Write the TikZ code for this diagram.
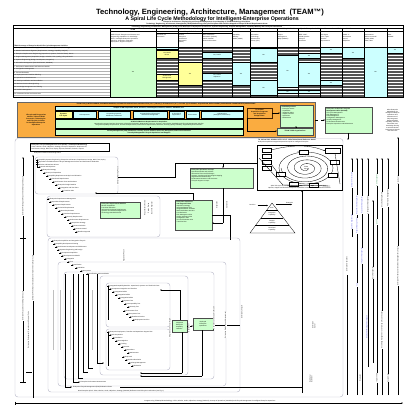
\documentclass[tikz,border=0pt]{standalone}
\usepackage{fontspec}
\setmainfont{Liberation Sans}
\usetikzlibrary{arrows.meta,shapes.geometric}
\definecolor{tgreen}{RGB}{204,255,204}
\definecolor{tcyan}{RGB}{204,255,255}
\definecolor{tyellow}{RGB}{255,255,153}
\definecolor{torange}{RGB}{250,172,64}
\definecolor{tdark}{RGB}{85,85,85}
\definecolor{tblue}{RGB}{60,60,225}
\definecolor{tgtxt}{RGB}{40,140,70}
\definecolor{tframe}{RGB}{190,190,205}
\tikzset{
  tx/.style={font=\fontsize{1.5}{1.8}\selectfont, inner sep=0pt, align=left},
  txc/.style={tx, align=center},
  txb/.style={font=\fontsize{1.6}{1.9}\selectfont\bfseries, inner sep=0pt, align=center},
  gbox/.style={draw=black!70, line width=0.3pt, fill=tgreen},
  frm/.style={draw=tframe, line width=0.45pt, rounded corners=3pt},
  ln/.style={line width=0.3pt},
  arr/.style={line width=0.3pt, -{Stealth[length=1.6pt,width=1.3pt]}},
  rtx/.style={tx, rotate=90, fill=white, inner sep=0.3pt},
}
\newcommand\cellfill[6]{\fill[#5] (#1,#2) rectangle (#3,#4); \draw[line width=0.25pt] (#1,#2) rectangle (#3,#4); \node[txc] at ({(#1+#3)/2},{(#2+#4)/2}) {#6};}
\newcommand\entry[3]{\draw[arr] (#1-2.6,#2) -- (#1-0.2,#2); \node[tx,anchor=west] at (#1,#2) {#3};}
\begin{document}
\begin{tikzpicture}[x=1pt,y=-1pt]
\useasboundingbox (0,0) rectangle (414,414);
\fill[white] (0,0) rectangle (414,414);

% ---------------- title
\node[font=\fontsize{7.6}{9}\selectfont\bfseries] (title) at (210,12.6) {Technology, Engineering, Architecture, Management\ \ (TEAM™)};
\node[font=\fontsize{5.3}{6}\selectfont\bfseries] (subtitle) at (212,18.9) {A Spiral Life Cycle Methodology for Intelligent-Enterprise Operations};
\node[txb] (sub1) at (207,22.3) {Enterprise Architecture, Engineering and Program Management Cross-Mapping of TEAM Methodology Disciplines};
\node[txb] (sub2) at (207,24.3) {Technology, Engineering, Architecture, Management (TEAM) Methodology Lifecycle Disciplines and Activities Mapped to Enterprise Model Requirements Areas};

% ---------------- table
\fill[tdark] (156,47) rectangle (403,97);
\foreach \y in {49.5,52.5,...,96} \draw[white,line width=0.35pt] (156,\y) -- (403,\y);
\foreach \y in {50,53,...,95} \draw[black!30,line width=0.25pt] (13,\y) -- (110,\y);
\foreach \t [count=\i] in {
 {1. Enterprise Architecture Planning (Business, Information, Application, Technology)},
 {2. Mission Performance Alignment (Requirements, Strategy, Capability Analysis)},
 {3. Enterprise Requirements Engineering (Operational, Systems, Technical Views), Reuse},
 {4. Program Management (Acquisition, Budget, Schedule, Risk, Quality), Lifecycle Model},
 {5. Systems Engineering (Design, Development, Integration)},
 {6. Information Management (Data Architecture, Metadata)},
 {7. Performance Measurement and Reference Models},
 {8. Configuration Management},
 {9. Test and Evaluation},
 {10. Deployment and Transition Planning},
 {11. Operations and Maintenance},
 {12. Security Certification and Accreditation},
 {13. Business Process Reengineering},
 {14. Knowledge Management and Training},
 {15. Portfolio Management},
 {16. Investment Review and Governance}}
 \node[tx,anchor=west] at (14,45.6+3*\i) {\t};

\cellfill{110}{47}{156}{97}{tgreen}{Yes}
\cellfill{156}{47}{178}{49.5}{tcyan}{}
\cellfill{156}{50.5}{178}{58}{tyellow}{Yes, Model\\Driven}
\cellfill{156}{74.5}{178}{80}{tyellow}{Architectural\\Management}
\cellfill{178}{62}{202}{85}{tyellow}{Yes}
\cellfill{202}{52}{232}{58}{tcyan}{Yes, Partial}
\cellfill{202}{73}{232}{80}{tcyan}{Yes, Partial\\Sequence}
\cellfill{232}{62}{250}{85}{tcyan}{Yes}
\cellfill{250}{48}{277}{62}{tcyan}{Yes}
\cellfill{250}{80}{277}{95}{tcyan}{Yes}
\cellfill{277}{55}{298}{87}{tcyan}{Yes}
\cellfill{277}{90}{298}{93.5}{tcyan}{Yes}
\cellfill{298}{53}{320}{58}{tcyan}{Yes}
\cellfill{298}{62}{320}{85}{tcyan}{Yes}
\cellfill{298}{90}{320}{93.5}{tcyan}{Yes}
\cellfill{320}{47}{342}{53}{tcyan}{Yes}
\cellfill{320}{80}{342}{85}{tcyan}{Yes}
\cellfill{342}{47}{364}{58}{tcyan}{Yes}
\cellfill{364}{47}{387}{97}{tcyan}{Yes}
\cellfill{387}{47}{403}{53}{tcyan}{Yes}

% header
\draw[line width=0.5pt] (13,25.6) rectangle (403,97);
\draw[line width=0.3pt] (13,28) -- (403,28);
\node[txb] at (207,26.8) {Technology, Engineering, Architecture, Management (TEAM) Cross-Reference to Enterprise Architecture, Systems Engineering, Program Management, Capability Maturity and Life-Cycle Frameworks};
\draw[line width=0.3pt] (110,31) -- (403,31);
\draw[line width=0.3pt] (156,33.5) -- (232,33.5);
\node[txb] at (133,29.5) {TEAM};
\node[txb] at (190,29.5) {Enterprise Architecture Frameworks};
\node[txb] at (190,32.3) {Lifecycle Models};
\node[txb] at (317,29.5) {Lifecycle Role Partnerships for Enterprise Architecture Frameworks and Reference Models};
\draw[line width=0.6pt] (13,47) -- (403,47);
\node[txb,anchor=south west,align=left] at (14,46.6) {TEAM Coverage of Enterprise Model Life-Cycle Management Activities};
\foreach \xa/\xb/\t in {
 110/156/{Multi-Lifecycle Enterprise Architecture and\\Engineering Capabilities for Knowledge\\Driven, Intelligent-Enterprise Operations;\\Planning, Acquisition, Integration,\\Deployment, Support Lifecycles},
 156/178/{Zachman EA\\Framework},
 178/202/{Federal\\Enterprise\\Architecture\\Framework\\(FEAF)},
 202/232/{DoD Architecture\\Framework (DoDAF),\\C4ISR, MODAF\\Views and Products},
 232/250/{Capability\\Maturity\\Model (CMMI)},
 250/277/{Information\\Technology\\Infrastructure\\Library (ITIL)},
 277/298/{Project\\Management\\Body (PMBOK)},
 298/320/{IEEE 12207,\\15288 Systems\\Lifecycle\\Processes},
 320/342/{Six Sigma,\\Lean, TQM\\Process\\Improvement},
 342/364/{COBIT IT\\Governance\\Control\\Objectives},
 364/387/{Performance\\Reference Model\\(PRM), BRM,\\SRM, TRM},
 387/403/{GAO\\EAMMF}}
 \node[tx,anchor=north west,text width=(\xb-\xa-1.5)*1pt] at (\xa+0.8,34.5) {\t};
\foreach \x in {110,156,178,202,232,250,277,298,320,342,364,387}
 \draw[line width=0.6pt] (\x,28) -- (\x,97);

% ---------------- orange box
\fill[torange] (17,102) rectangle (315,137.5);
\draw[line width=0.3pt,draw=black!60] (17,102) rectangle (315,137.5);
\node[txb] (ohead) at (166,104.3) {TEAM FOR (1) INTELLIGENCE, BUSINESS/MISSION, AUTOMATED OPERATIONS CAPABILITIES (I.O.C.) FROM (1) TECHNOLOGY (S.T.) CYCLES, (2) PLANNING, ACQUISITION, DEPLOYMENT (ENTERPRISE COMMITMENTS) OPERATIONS};
\node[txb] (oleft) at (36,120) {Lifecycle and Progression\\Models, Tailored TEAM\\Processes, Technologies\\and Lifecycle Activities\\for Intelligent-Enterprise\\Operations};
\draw[ln,fill=tcyan] (55,106.5) rectangle (243,110.5);
\node[txb] at (149,108.5) {Sample TEAM Acquisition Areas, Services, Technologies, Products, Vendors, Standards, Etc.};
\draw[ln,fill=tyellow] (55,111) rectangle (72,118.5);
\node[txb] at (63.5,114.7) {Systems\\Life Cycle};
\foreach \xa/\xb/\t in {73/96/{UI Components}, 98/130/{UI Operating Systems,\\Middleware, Databases}, 133/167/{UI Organizational (Enterprise)\\Information Management}, 169/184/{UI Functional\\Applications}, 186/199/{UI Processes}, 201/243/{UI Enterprises\\(Intelligence, Information)}}
 {\draw[ln,fill=tcyan] (\xa,111) rectangle (\xb,118.5); \node[txc] at ({(\xa+\xb)/2},114.7) {\t};}
\draw[ln,fill=tgreen] (55,119) rectangle (243,128.5);
\node[txc] (gband) at (149,123.7) {\textbf{All Mission/Business Requirements for Acquisition}\\Operational Concepts, Business Processes, Information Exchanges, Data Models, Services, Systems, Technologies, Standards and Lifecycle Management Activities\\Integrated Capability Requirements, Functional Requirements, Performance Requirements, Interfaces, Security, Quality, Reliability, Supportability and Schedules};
\draw[ln,fill=tgreen] (55,129.5) rectangle (243,135.5);
\node[txb] at (149,132.5) {Identity Management (IdM), Biometrics, Privacy, Access Control, Audit, PKI, Encryption, Data Loss Prevention\\Security Management Lifecycle Operations and Support};
\draw[arr] (150,127.5) -- (150,129.3);
\draw[line width=0.4pt,draw=black!70!orange,fill=torange] (247,108) rectangle (272,118);
\node[txb] (osub) at (259.5,113) {Tri-Ordinal\\Acquisition Programs\\and Acquisition\\Budget Plans};
\node[gbox,minimum width=33pt,minimum height=22pt,anchor=north west] (budget) at (280,105) {};
\node[tx,anchor=north west] at (281.5,106.5) {\textbf{TEAM Budget Plans}\\- Enterprise Assets\\- Capabilities\\- Integration Plans\\- Support Services\\- Operations\\- Maintenance};
\node[gbox,minimum width=36pt,minimum height=6pt,anchor=north west] (tcipp) at (277,128) {};
\node[txb] at (295,131) {TEAM TCIPP Organizations};
\draw[arr] (272,113) -- (280,113);
\draw[arr] (247,118) -- (247,131) -- (277,131);
\draw[arr] (296,127) -- (296,128);

% right of orange
\draw[arr,dashed] (315,120) -- (325,120);
\node[gbox,minimum width=47pt,minimum height=26pt,anchor=north west] (eapmo) at (325,107) {};
\node[tx,anchor=north west] at (326.5,108.5) {\textbf{Enterprise Architecture Program}\\\textbf{Management Office (EAPMO)}\\Life-Cycle Management\\Risk Management\\Data Management\\Configuration Management\\Security Management\\Performance Measurement\\Enterprise Operations and Maintenance};
\node[txc] (micro) at (392.5,120.5) {Micro-Enterprise\\Methodology for\\Intelligent-Enterprise\\Operations and\\Maintenance of\\Fully Integrated,\\Enterprise-Wide\\Capability, Services,\\Information and\\Knowledge Sharing\\to Achieve Mission\\Performance Results\\and Outcomes};
\draw[arr] (348,133) -- (348,140);

% ---------------- outer frames
\draw[frm] (15,138.5) rectangle (343,397);
\draw[ln,fill=white] (30,143) rectangle (109,151);
\node[tx,anchor=north west] (elmp) at (31.5,144.3) {\textbf{Enterprise Lifecycle Management Process (ELMP) - TEAM Spiral Methodology}\\Vision, Mission, Goals, Objectives, Strategy, Concept of Operations, Requirements,\\Architecture, Design, Build, Test, Deploy, Operate, Maintain, Evaluate, Improve};
\node[tx,anchor=west] at (34,153.5) {Enterprise Initiation and Planning Phase};

% left long arrows
\draw[arr] (23,383) -- (23,157);
\draw[arr] (33,398) -- (33,155);
\draw[ln] (20,238) -- (26,238);
\draw[ln] (20,382) -- (26,382);
\draw[ln] (26,372) -- (32,372);
\node[rtx] at (23,196) {Enterprise Planning and Requirements Management Cycle};
\node[rtx] at (23,306) {Enterprise Acquisition and Integration Cycle};
\node[rtx] at (28.5,330) {Enterprise Deployment, Operations and Support Cycle};
\node[rtx] at (33,278) {Enterprise Performance Evaluation and Improvement Lifecycle Loop};

% frame A tree
\draw[frm] (35,157) rectangle (118,194);
\draw[ln] (37,161) -- (37,168);
\foreach \x/\y/\t in {
 39/160/{Capability Systems Engineering: Enterprise Architecture, Requirements, Design, Build, Test, Deploy},
 39/162.3/{Operations and Maintenance Lifecycle Management Process and Performance Evaluation},
 39/164.6/{Mission and Business Drivers},
 41/167/{Goals and Objectives},
 43/170/{Enterprise Strategy},
 46/173/{Concept of Operations},
 49/176/{Capability Requirements Analysis and Allocation},
 52/179/{Functional Requirements},
 55/182/{Architecture Views and Products},
 58/185/{Enterprise Design Baseline},
 61/188/{Integration and Test Plans},
 64/191/{Transition Plan}}
 \entry{\x}{\y}{\t};
\node[rtx] at (118,176) {Enterprise Planning Phase};
\draw[ln] (118,177) -- (175,177) -- (175,163) -- (257,163);
\draw[arr] (223,163) -- (223,168);
\draw[ln] (193,200) -- (193,193);
\draw[arr] (193,193) -- (95,193);

% frame B
\draw[frm] (47,196) rectangle (160,237);
\foreach \x/\y/\t in {
 50/199/{Enterprise Requirements Management},
 52/202/{Operational Requirements},
 55/205/{Systems Requirements},
 58/208/{Technical Requirements},
 61/211/{Data Requirements},
 64/214/{Interface Requirements},
 67/217/{Security Requirements},
 70/220/{Performance Requirements},
 72/223/{Acquisition Strategy},
 74/226/{Source Selection},
 76/229/{Contract Award},
 78/232/{Baseline Approval}}
 \entry{\x}{\y}{\t};
\node[gbox,minimum width=40pt,minimum height=16pt,anchor=north west] (req) at (100,202) {};
\node[tx,anchor=north west] at (101.5,203.5) {\textbf{Enterprise Requirements Baseline}\\Mission Capabilities\\Functional Allocation\\Information Exchange Requirements\\Systems and Services Requirements\\Technology Standards Profile};
\node[rtx] at (145,208) {Requirements Review};
\node[rtx] at (148.5,208) {Design Review};
\node[rtx] at (152,208) {Baseline Approval};
\node[gbox,minimum width=37pt,minimum height=30pt,anchor=north west] (acq) at (175,200) {};
\node[tx,anchor=north west] at (176.5,201.5) {\textbf{Enterprise Acquisition}\\\textbf{and Integration Plan}\\Acquisition Strategy\\Integrated Master Plan\\Integrated Master Schedule\\Work Breakdown Structure\\Cost Estimates\\Risk Management Plan\\Quality Assurance Plan\\Configuration Plan\\Test and Evaluation Plan\\Transition Plan};
\node[gbox,minimum width=63pt,minimum height=20pt,anchor=north west] (ops) at (190,168) {};
\node[tx,anchor=north west] at (191.5,169.5) {\textbf{Enterprise Operations Concept}\\Operational Nodes and Activities\\Information Flows and Exchanges\\Systems, Services and Technologies Mapping\\Organizational Relationships\\Performance Measures and Outcomes\\Lifecycle Support Concept};
\draw[ln] (223,188) -- (223,223);
\draw[arr] (223,223) -- (212,223);
\draw[ln] (212,215) -- (230,215) -- (230,240);
\node[rtx] at (217,205) {Integration};
\node[rtx] at (227,205) {Operations};

% ---------------- spiral box
\node[txb,anchor=west] at (258,140.2) {TS, 26 Jun 2011: SPIRAL LIFE CYCLE - Initial Value-Based Reference Model};
\node[tx,anchor=west] at (258,142.5) {Enterprise Acquisition/Integration/Operations Spiral for Intelligent-Enterprise};
\draw[ln,fill=white] (257,145) rectangle (342,190.5);
\foreach \yy in {148,154,160,166} \draw[ln,fill=white] (262,\yy) rectangle (271,\yy+4.5);
\draw[ln] (325,148.5) rectangle (340,153.5);
\draw[arr] (271,150) .. controls (292,144.5) and (310,144.5) .. (325,151);
\draw[ln] plot[domain=0:1260, samples=160, variable=\t] ({306+(2+\t/55)*cos(\t)}, {168+(1.5+\t/95)*sin(\t)});
\draw[ln] (306,168) ellipse [x radius=27pt, y radius=16pt];
\foreach \xa/\ya in {276/172, 289/182, 309/183, 328/173, 299/150, 330/160} \draw[ln,fill=white] (\xa,\ya) rectangle (\xa+9,\ya+4);
\draw[ln] (259,158) -- (283,185) -- (330,186);
\draw[ln] (271,164) -- (280,176);
\draw[ln] (335,153.5) -- (340,184);
\node[tx] at (299,152) {Plan};
\node[txc] at (306,168) {TEAM\\Spiral};
\node[txc] at (299.5,187) {Spiral Life Cycle for Intelligent-Enterprise Operations: Plan, Acquire, Integrate, Deploy,\\Operate, Support and Evaluate Enterprise Capabilities in Successive Value-Based Increments};
\draw[arr] (302,393) -- (302,190.5);

% pyramid
\draw[ln] (272,203) -- (250,233) -- (295,233) -- cycle;
\foreach \y in {210.5,218,225.5} \draw[ln] ({272-(\y-203)*0.75},\y) -- ({272+(\y-203)*0.75},\y);
\node[txc] at (272,208) {Exec};
\node[txc] at (272,214.5) {Integration\\Capability};
\node[txc] at (272,222) {Support\\Capability};
\node[txc] at (272,229.5) {Functional\\Capability};
\node[tx] (dec) at (252.5,204.5) {Decision};
\draw[arr] (257.5,205.5) -- (268,205.5);
\draw[arr] (276,204.5) -- (292,204.5);
\node[tx,anchor=west] at (286,203) {Enterprise};

% ---------------- lower nested frames
\draw[frm] (48,238) rectangle (240,392);
\draw[frm] (58,262) rectangle (226,386);
\draw[frm] (64,272) rectangle (214,379);
\draw[frm] (100,276) rectangle (188,375);
\draw[frm] (106,283) rectangle (170,327);
\draw[frm] (106,329) rectangle (170,370);
\foreach \x/\y/\t in {
 54/241/{Enterprise Acquisition and Integration Lifecycle},
 56/244/{Capability Development Planning},
 58/247/{Architecture Development and Refinement},
 60/250/{Systems Engineering and Design},
 62/253/{Component Acquisition},
 64/256/{Development and Build},
 67/259/{Integration},
 70/262/{Test},
 74/265/{Verification},
 78/268/{Validation},
 83/271/{Acceptance},
 89/274/{Certification and Accreditation}}
 \entry{\x}{\y}{\t};
\node[rtx] at (124,256) {Acquisition Phase};
\foreach \x/\yb in {65/387, 73/382, 78/378, 83/372, 88/368, 97/363}
 \draw[ln] (\x,274) -- (\x,\yb) -- (\x+5,\yb);
\foreach \x in {53,60,70,92} \draw[black!25,line width=0.3pt] (\x,290) -- (\x,350);
\draw[arr] (97,363) -- (104,363);
\foreach \x/\y/\t in {
 110/286/{Integrated Capability Baseline: Operational, Systems and Technical Views},
 112/289/{Component Integration and Test Plan},
 115/292/{Integration Build 1},
 118/295/{Integration Build 2},
 121/298/{Integration Build 3},
 124/301/{Systems Test},
 127/304/{Interoperability Test},
 130/307/{Security Test},
 126/311/{Performance Test},
 129/314/{Acceptance Test},
 132/317/{Readiness Review},
 135/320/{Deployment Decision}}
 \entry{\x}{\y}{\t};
\foreach \x/\y/\t in {
 110/332/{Enterprise Deployment, Transition and Operations Support Plan},
 112/335/{Site Preparation},
 115/338/{Installation},
 118/341/{Data Migration},
 121/344/{Training},
 124/347/{Cutover},
 127/350/{Operations},
 130/353/{Maintenance},
 125/357/{Help Desk},
 128/360/{Problem Resolution},
 131/363/{Change Management},
 134/366/{Evaluation}}
 \entry{\x}{\y}{\t};
\draw[ln] (108,287) -- (108,320);
\draw[ln] (108,333) -- (108,366);
\node[gbox,minimum width=15pt,minimum height=12pt,anchor=north west] (integ) at (172,320) {};
\node[txc] at (179.5,326) {Integrated\\Enterprise\\Capability\\Baseline};
\node[gbox,minimum width=20pt,minimum height=12pt,anchor=north west] (deploy) at (193,318) {};
\node[txc] at (203,324) {Deployed\\Enterprise\\Operations};
\draw[arr] (187,326) -- (193,326);
\draw[ln] (213,325) -- (240,325);
\draw[arr] (180,290) -- (160,290);
\draw[ln] (180,290) -- (180,320);
\draw[ln] (182,332) -- (182,373);
\draw[arr] (182,373) -- (140,373);
\draw[ln] (202,330) -- (202,376);
\draw[arr] (202,376) -- (140,376);
\node[rtx] at (170,328) {Integration and Test Lifecycle};
\node[rtx] at (189,328) {Deployment};
\node[rtx] at (214,318) {Operations and Support Lifecycle};
\node[rtx] at (225.5,325) {Enterprise Evaluation and Improvement};
\node[rtx] at (242,312) {Enterprise Lifecycle};
\node[rtx] at (314,325) {Enterprise\\Spiral};
\node[rtx] at (311,379) {Next Spiral\\Increment};

% bottom lines in frame
\draw[ln] (302,387) -- (120,387);
\draw[arr] (65,387) -- (72,387);
\node[tx,anchor=west] at (73,387) {Enterprise Lifecycle Management (ELM) Evaluation Phase};
\draw[arr] (73,382) -- (80,382);
\node[tx,anchor=west] at (80.5,382) {Enterprise Performance Measurement};
\node[tx,anchor=west] at (78,391.5) {Next Enterprise Spiral: Vision, Mission, Goals, Objectives, Strategy (VMGOS) Refinement and Lifecycle Continuation (see Fig. 1)};

% ---------------- right vertical lines
\foreach \x/\ya/\yb in {352/158/237, 357/158/395, 362/158/395, 368/158/367, 373/200/363, 377/158/395, 382/158/395, 388/158/395, 398/137/395}
 \draw[arr] (\x,\yb) -- (\x,\ya);
\draw[ln] (347,275) -- (347,395);
\node[rtx,text=tblue] at (352,180) {Enterprise Architecture};
\node[rtx,text=tblue] at (357,205) {Requirements Management};
\node[rtx,text=tblue] at (362,205) {Acquisition Management};
\node[rtx,text=tblue] at (352,222) {Systems Engineering};
\node[rtx,text=tblue] at (357,226) {Program Management};
\node[rtx,text=tblue] at (362,256) {Integration Management};
\node[rtx,text=tblue] at (367,327) {Deployment Management Support};
\node[rtx,text=tblue] at (357,285) {Test};
\node[rtx] at (368,205) {Configuration Management};
\node[rtx,text=tgtxt] at (377,180) {Risk Management};
\node[rtx,text=tgtxt] at (377,222) {Quality};
\node[rtx] at (382,200) {Security Management};
\node[rtx] at (388,198) {Performance Management};
\node[rtx] at (398,180) {Governance};
\node[rtx] at (398,266) {Enterprise Portfolio and Investment Management Lifecycle};
\node[rtx] at (373,273) {Data Management};
\node[rtx] at (382,330) {Knowledge Management and Training Lifecycle Support};
\node[rtx] at (347,264) {Enterprise Operations};
\node[rtx] at (360,378) {Evaluation};
\node[rtx] at (377,378) {Improvement};
\node[rtx] at (388,378) {Sustainment};

% ---------------- bottom axis
\draw[arr] (15,403) -- (403,403);
\draw[ln] (15,401.5) -- (15,404.5);
\node[tx] (axis) at (210,401.3) {Integrate using TEAM Spiral Methodology: Vision, Mission, Goals, Objectives, Strategy (VMGOS), Concept of Operations (CONOPS) and Lifecycle Management for Intelligent-Enterprise Operations};
\end{tikzpicture}
\end{document}
